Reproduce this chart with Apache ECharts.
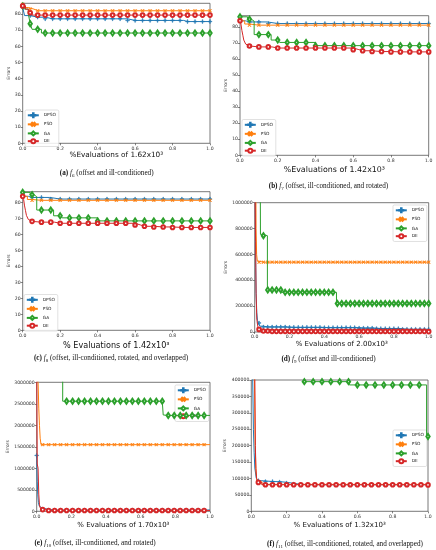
<!DOCTYPE html>
<html><head><meta charset="utf-8">
<script src="https://cdn.jsdelivr.net/npm/echarts@6/dist/echarts.min.js"></script>
<style>html,body{margin:0;padding:0;background:#fff}#c{width:436px;height:550px}</style>
</head><body><div id="c"></div>
<script>
// ---------- data ----------
const SERIES_NAMES = ['DPSO', 'PSO', 'GA', 'DE'];
const X_TICKS = [0, 0.2, 0.4, 0.6, 0.8, 1.0];
const Y_TICKS_ABC = [0, 10, 20, 30, 40, 50, 60, 70, 80];
const Y_TICKS_D = [0, 200000, 400000, 600000, 800000, 1000000];
const Y_TICKS_E = [0, 500000, 1000000, 1500000, 2000000, 2500000, 3000000];
const Y_TICKS_F = [0, 50000, 100000, 150000, 200000, 250000, 300000, 350000, 400000];

// step breakpoints [x, value] : value holds from x until the next breakpoint
// (a) f6
const A_DPSO = [[0,84],[0.01,79],[0.045,78],[0.12,77],[0.56,76],[0.86,75.3],[1,75.3]];
const A_PSO  = [[0,86],[0.01,84],[0.03,83],[0.06,82],[1,82]];
const A_GA   = [[0,85],[0.01,83],[0.03,80],[0.04,74],[0.05,70.5],[0.1,68.2],[1,68.2]];
const A_DE   = [[0,85],[0.015,83],[0.03,80.8],[0.05,79.3],[1,79.3]];
// (b) f7
const B_DPSO = [[0,86],[0.01,84],[0.03,83.3],[0.145,82.3],[1,82.3]];
const B_PSO  = [[0,86],[0.01,84],[0.025,82],[0.05,81.3],[1,81.3]];
const B_GA   = [[0,86.5],[0.04,85],[0.06,83.8],[0.075,75.4],[0.165,72],[0.21,70.5],[0.4,68.5],[1,68.5]];
const B_DE   = [[0,84],[0.005,82],[0.01,78],[0.015,75],[0.02,72],[0.03,69.5],[0.04,68.3],[0.06,67.7],[0.17,67],[0.6,66],[0.63,65.3],[0.7,64.8],[0.8,64.6],[1,64.6]];
// (c) f8
const C_DPSO = [[0,86],[0.01,84],[0.03,83.3],[0.145,82.3],[1,82.3]];
const C_PSO  = [[0,86],[0.01,84],[0.025,82],[0.05,81.5],[1,81.5]];
const C_GA   = [[0,86.5],[0.04,85],[0.06,83.8],[0.075,75.4],[0.165,71.8],[0.21,70.5],[0.4,68.6],[1,68.6]];
const C_DE   = [[0,84],[0.005,82],[0.01,78],[0.015,75],[0.02,72],[0.03,69.5],[0.04,68.3],[0.06,67.8],[0.17,67.1],[0.6,66],[0.63,65.2],[0.7,64.8],[0.8,64.5],[1,64.5]];
// (d) f9
const D_DPSO = [[0,3000000],[0.004,1000000],[0.006,500000],[0.008,300000],[0.012,150000],[0.016,90000],[0.02,70000],[0.03,45000],[0.05,39000],[0.2,36000],[0.4,33500],[0.6,30000],[0.7,26000],[0.85,21000],[1,20500]];
const D_PSO  = [[0,3000000],[0.005,1500000],[0.008,800000],[0.011,600000],[0.015,550000],[0.02,540000],[1,540000]];
const D_GA   = [[0,5000000],[0.033,755000],[0.045,745000],[0.073,325000],[0.155,307000],[0.47,221000],[1,221000]];
const D_DE   = [[0,3000000],[0.002,1100000],[0.005,700000],[0.008,300000],[0.012,100000],[0.018,40000],[0.025,20000],[0.04,8000],[0.08,5000],[1,3000]];
// (e) f10
const E_DPSO = [[0,1300000],[0.003,700000],[0.006,400000],[0.01,200000],[0.015,120000],[0.02,80000],[0.03,50000],[0.06,30000],[1,25000]];
const E_PSO  = [[0,5000000],[0.008,3000000],[0.012,2400000],[0.016,2000000],[0.02,1700000],[0.025,1550000],[1,1550000]];
const E_GA   = [[0,4000000],[0.15,2560000],[0.73,2240000],[0.74,2230000],[1,2230000]];
const E_DE   = [[0,3500000],[0.003,1100000],[0.008,1000000],[0.012,400000],[0.016,150000],[0.02,80000],[0.03,40000],[0.05,20000],[1,15000]];
// (f) f11
const F_DPSO = [[0,700000],[0.008,400000],[0.012,250000],[0.016,180000],[0.02,132000],[0.028,101000],[0.037,93000],[0.07,90500],[0.15,89000],[0.19,86000],[0.23,83000],[0.27,81000],[1,81000]];
const F_PSO  = [[0,600000],[0.018,400000],[0.022,200000],[0.026,130000],[0.03,100000],[0.035,90000],[0.06,82000],[1,81000]];
const F_GA   = [[0,600000],[0.3,395000],[0.555,385000],[0.992,228000],[1,228000]];
const F_DE   = [[0,700000],[0.02,400000],[0.023,200000],[0.026,130000],[0.03,100000],[0.04,88000],[0.06,81000],[1,80500]];

const X_LABELS = ['%Evaluations of 1.62x10³', '%Evaluations of 1.42x10³', '% Evaluations of 1.42x10³',
                  '% Evaluations of 2.00x10³', '% Evaluations of 1.70x10³', '% Evaluations of 1.32x10³'];
// caption parts: label, function letter, subscript, description
const CAPTIONS = [
  ['(a)', 'f', '6', ' (offset and ill-conditioned)'],
  ['(b)', 'f', '7', ' (offset, ill-conditioned, and rotated)'],
  ['(c)', 'f', '8', ' (offset, ill-conditioned, rotated, and overlapped)'],
  ['(d)', 'f', '9', ' (offset and ill-conditioned)'],
  ['(e)', 'f', '10', ' (offset, ill-conditioned, and rotated)'],
  ['(f)', 'f', '11', ' (offset, ill-conditioned, rotated, and overlapped)']
];

// ---------- layout / style ----------
const COLORS = ['#1f77b4', '#ff7f0e', '#2ca02c', '#d62728'];
const PLUS = 'path://M4.3,0H5.7V4.3H10V5.7H5.7V10H4.3V5.7H0V4.3H4.3Z';
const SYMBOLS = [PLUS, PLUS, 'emptyDiamond', 'emptyCircle'];
const SYM_ROT = [0, 45, 0, 0];
const SYM_SIZE = [3.8, 3.8, [3.4, 5], 3.6];

const panels = [
  {data:[A_DPSO,A_PSO,A_GA,A_DE], yMax:86.6, yTicks:Y_TICKS_ABC, grid:{left:22.7,top:3.3,width:187.3,height:140},
   legend:{left:25,top:110}, xNameSize:7.3, xNameGap:7.3, yNameGap:9, mark:[0.04,0.04,0.04,0.04], cap:[106.7,173]},
  {data:[B_DPSO,B_PSO,B_GA,B_DE], yMax:87.2, yTicks:Y_TICKS_ABC, grid:{left:240,top:15.7,width:188.7,height:139.6},
   legend:{left:242,top:119.5}, xNameSize:7.9, xNameGap:10.7, yNameGap:9, mark:[0.05,0.05,0.05,0.05], cap:[328.5,186]},
  {data:[C_DPSO,C_PSO,C_GA,C_DE], yMax:86.9, yTicks:Y_TICKS_ABC, grid:{left:22.7,top:191.7,width:187.3,height:138.6},
   legend:{left:24,top:294.5}, xNameSize:8.1, xNameGap:11.4, yNameGap:10, mark:[0.05,0.05,0.05,0.05], cap:[111,358.3]},
  {data:[D_DPSO,D_PSO,D_GA,D_DE], yMax:1000000, yTicks:Y_TICKS_D, grid:{left:254.7,top:202.7,width:174,height:129.3},
   legend:{left:393,top:205}, xNameSize:7.0, xNameGap:8.5, yNameGap:27, mark:[0.025,0.025,0.025,0.025], cap:[328.5,359]},
  {data:[E_DPSO,E_PSO,E_GA,E_DE], yMax:3000000, yTicks:Y_TICKS_E, grid:{left:36.7,top:382.3,width:173.3,height:129},
   legend:{left:175,top:385}, xNameSize:7.0, xNameGap:10.2, yNameGap:27, mark:[0.0345,0.0345,0.0345,0.0345], cap:[95,543.3]},
  {data:[F_DPSO,F_PSO,F_GA,F_DE], yMax:400000, yTicks:Y_TICKS_F, grid:{left:251.3,top:380,width:176.7,height:131.3},
   legend:{left:393,top:430}, xNameSize:7.0, xNameGap:10.2, yNameGap:24, mark:[0.04,0.04,0.05,0.04], cap:[345,544]}
];

function valueAt(steps, x) {
  let v = steps[0][1];
  for (const p of steps) { if (p[0] <= x + 1e-9) v = p[1]; else break; }
  return v;
}
function buildData(steps, every) {
  const pts = steps.map(p => ({ value: [p[0], p[1]], symbol: 'none' }));
  for (let k = 0; k * every <= 1 + 1e-9; k++) {
    const x = k * every;
    pts.push({ value: [x, valueAt(steps, x)] });
  }
  pts.sort((a, b) => a.value[0] - b.value[0]);
  return pts;
}

const AXIS_FONT = 'DejaVu Sans';
const CAP_FONT = 'Liberation Serif';
const grids = [], xAxes = [], yAxes = [], series = [], legends = [], graphics = [];
panels.forEach((p, i) => {
  grids.push(Object.assign({ show: true, borderColor: '#555', borderWidth: 0.8, backgroundColor: 'transparent' }, p.grid));
  xAxes.push({
    type: 'value', gridIndex: i, min: 0, max: 1, interval: 0.2,
    axisLine: { show: false }, splitLine: { show: false },
    axisTick: { show: true, length: 2, lineStyle: { color: '#333', width: 0.6 }, customValues: X_TICKS },
    axisLabel: { fontSize: 4.6, color: '#333', margin: 2.5, fontFamily: AXIS_FONT, customValues: X_TICKS,
                 formatter: v => Number(v).toFixed(1) },
    name: X_LABELS[i], nameLocation: 'middle', nameGap: p.xNameGap,
    nameTextStyle: { fontSize: p.xNameSize, fontFamily: AXIS_FONT, color: '#111' }
  });
  yAxes.push({
    type: 'value', gridIndex: i, min: 0, max: p.yMax, interval: p.yTicks[1],
    axisLine: { show: false }, splitLine: { show: false },
    axisTick: { show: true, length: 2, lineStyle: { color: '#333', width: 0.6 }, customValues: p.yTicks },
    axisLabel: { fontSize: 4.6, color: '#333', margin: 2, fontFamily: AXIS_FONT, customValues: p.yTicks,
                 formatter: v => String(v) },
    name: 'Errors', nameLocation: 'middle', nameGap: p.yNameGap,
    nameTextStyle: { fontSize: 4.4, fontFamily: AXIS_FONT, color: '#333' }
  });
  p.data.forEach((steps, j) => {
    series.push({
      type: 'line', name: SERIES_NAMES[j], xAxisIndex: i, yAxisIndex: i,
      step: 'end', data: buildData(steps, p.mark[j]),
      symbol: SYMBOLS[j], symbolRotate: SYM_ROT[j], symbolSize: SYM_SIZE[j],
      showSymbol: true, showAllSymbol: true, clip: true, animation: false,
      lineStyle: { color: COLORS[j], width: 1 },
      itemStyle: { color: COLORS[j], borderColor: COLORS[j], borderWidth: 0.55 },
      emphasis: { disabled: true }, z: 2 + j
    });
  });
  legends.push({
    data: SERIES_NAMES, left: p.legend.left, top: p.legend.top, orient: 'vertical',
    itemWidth: 11, itemHeight: 5, itemGap: 1.8, padding: [2.3, 3, 2.3, 1.8],
    backgroundColor: 'rgba(255,255,255,0.85)', borderColor: '#ccc', borderWidth: 0.6, borderRadius: 1.5,
    textStyle: { fontSize: 4.3, fontFamily: AXIS_FONT, color: '#222', padding: 0 },
    selectedMode: false
  });
  const c = CAPTIONS[i];
  graphics.push({
    type: 'text', x: p.cap[0], y: p.cap[1],
    style: {
      text: '{b|' + c[0] + '} {i|' + c[1] + '}{s|' + c[2] + '}{n|' + c[3] + '}',
      align: 'center', verticalAlign: 'middle',
      fontFamily: CAP_FONT, fontSize: 7.2, fill: '#111',
      rich: {
        b: { fontWeight: 'bold', fontFamily: CAP_FONT, fontSize: 7.2, fill: '#111', lineHeight: 10 },
        i: { fontStyle: 'italic', fontFamily: CAP_FONT, fontSize: 7.2, fill: '#111', lineHeight: 10 },
        s: { fontFamily: CAP_FONT, fontSize: 5, fill: '#111', lineHeight: 10, verticalAlign: 'bottom' },
        n: { fontFamily: CAP_FONT, fontSize: 7.2, fill: '#111', lineHeight: 10 }
      }
    }
  });
});

const chart = echarts.init(document.getElementById('c'), null, { renderer: 'canvas' });
chart.setOption({
  animation: false,
  backgroundColor: '#fff',
  grid: grids, xAxis: xAxes, yAxis: yAxes, series: series, legend: legends,
  graphic: graphics
});
</script></body></html>
